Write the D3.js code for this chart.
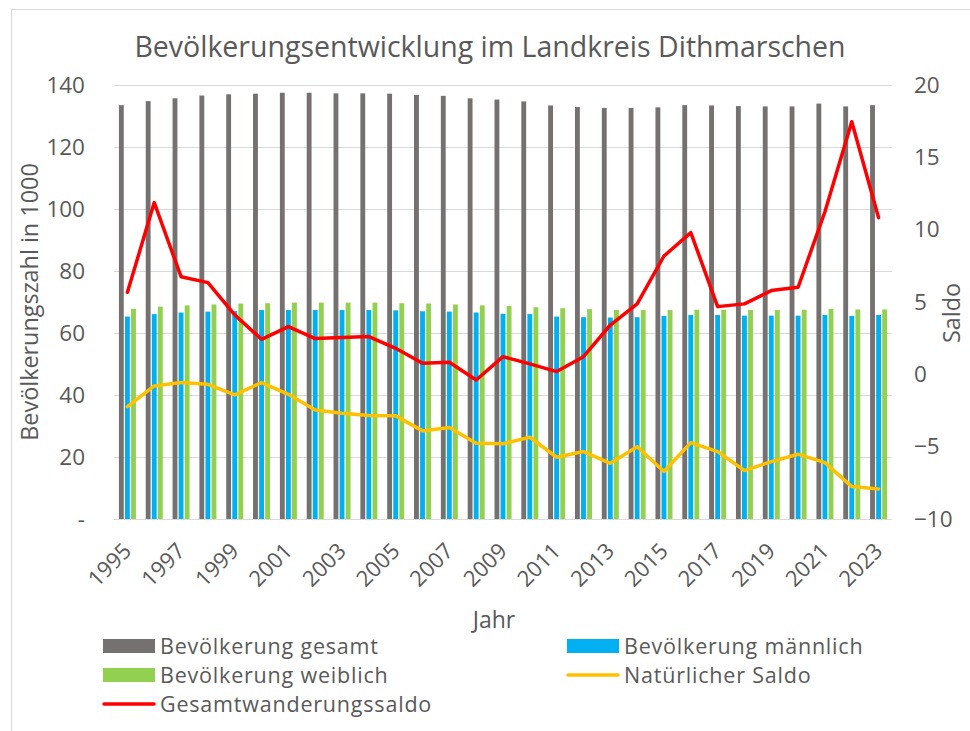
<!DOCTYPE html>
<html lang="de">
<head>
<meta charset="utf-8">
<title>Bevölkerungsentwicklung im Landkreis Dithmarschen</title>
<script src="https://d3js.org/d3.v7.min.js"></script>
<style>
  body { margin: 0; background: #fff; }
  svg { display: block; font-family: "Open Sans", "Noto Sans", sans-serif; }
  text { fill: #595959; }
</style>
</head>
<body>
<svg id="chart" width="970" height="731"></svg>
<script>
// data
const years = d3.range(1995, 2024);
const gesamt = [133.5, 134.8, 135.7, 136.6, 137.0, 137.2, 137.5, 137.5, 137.3, 137.3,
  137.2, 136.8, 136.5, 135.7, 135.3, 134.7, 133.4, 132.9, 132.6, 132.6,
  132.8, 133.5, 133.4, 133.2, 133.1, 133.1, 134.0, 133.1, 133.5];
const maennlich = [65.3, 66.1, 66.6, 66.9, 67.1, 67.4, 67.4, 67.4, 67.4, 67.4,
  67.3, 67.0, 66.9, 66.6, 66.2, 66.1, 65.3, 65.1, 65.0, 65.1,
  65.5, 65.8, 65.8, 65.6, 65.6, 65.6, 65.8, 65.5, 65.8];
const weiblich = [67.8, 68.5, 68.9, 69.2, 69.5, 69.6, 69.8, 69.8, 69.8, 69.8,
  69.6, 69.5, 69.2, 68.9, 68.7, 68.3, 68.0, 67.7, 67.4, 67.4,
  67.4, 67.5, 67.5, 67.4, 67.4, 67.5, 67.8, 67.6, 67.6];
const natSaldo = [-2.23, -0.8, -0.57, -0.69, -1.42, -0.57, -1.38, -2.46, -2.69, -2.85,
  -2.87, -3.91, -3.68, -4.76, -4.8, -4.35, -5.73, -5.34, -6.15, -5.0,
  -6.72, -4.72, -5.34, -6.65, -6.03, -5.52, -6.1, -7.76, -7.92];
const wanderSaldo = [5.67, 11.87, 6.75, 6.34, 4.11, 2.42, 3.3, 2.47, 2.54, 2.61,
  1.8, 0.77, 0.84, -0.39, 1.22, 0.72, 0.19, 1.22, 3.41, 4.87,
  8.18, 9.8, 4.68, 4.87, 5.79, 6.02, 11.24, 17.46, 10.83];
const leftTicks = [0, 20, 40, 60, 80, 100, 120, 140];
const rightTicks = [-10, -5, 0, 5, 10, 15, 20];

const barSeries = [
  { key: "gesamt", label: "Bevölkerung gesamt", values: gesamt, color: "#767171" },
  { key: "maennlich", label: "Bevölkerung männlich", values: maennlich, color: "#00B0F0" },
  { key: "weiblich", label: "Bevölkerung weiblich", values: weiblich, color: "#92D050" }
];
const lineSeries = [
  { key: "nat", label: "Natürlicher Saldo", values: natSaldo, color: "#FFC000" },
  { key: "wander", label: "Gesamtwanderungssaldo", values: wanderSaldo, color: "#FF0000" }
];

const svg = d3.select("#chart");
const plot = { left: 114, right: 892, top: 85, bottom: 519 };

// outer frame of the chart area
svg.append("rect")
  .attr("x", 11.5).attr("y", 9.5)
  .attr("width", 980).attr("height", 740)
  .attr("fill", "none").attr("stroke", "#d9d9d9");

const x = d3.scaleBand().domain(years).range([plot.left, plot.right]);
const groupW = 17;
const x1 = d3.scaleBand().domain(barSeries.map(s => s.key)).range([0, groupW]).paddingInner(0.2);
const yL = d3.scaleLinear().domain([0, 140]).range([plot.bottom, plot.top]);
const yR = d3.scaleLinear().domain([-10, 20]).range([plot.bottom, plot.top]);

// gridlines
svg.append("g")
  .selectAll("line").data(leftTicks).join("line")
  .attr("x1", plot.left).attr("x2", plot.right)
  .attr("y1", d => yL(d) + 0.5).attr("y2", d => yL(d) + 0.5)
  .attr("stroke", "#d9d9d9").attr("stroke-width", 1.2);

function styleAxis(g) {
  g.attr("font-family", null).attr("font-size", null);
  g.select(".domain").remove();
  g.selectAll("text").style("font-size", "22.5px").attr("fill", "#595959");
}

// left axis
svg.append("g")
  .attr("transform", `translate(${plot.left - 29},0)`)
  .call(d3.axisLeft(yL).tickValues(leftTicks).tickSize(0).tickPadding(0)
    .tickFormat(d => d === 0 ? "-" : d))
  .call(styleAxis);

// right axis
svg.append("g")
  .attr("transform", `translate(${plot.right + 22},0)`)
  .call(d3.axisRight(yR).tickValues(rightTicks).tickSize(0).tickPadding(0))
  .call(styleAxis);

// bars
const offset = (x.bandwidth() - groupW) / 2;
barSeries.forEach(s => {
  svg.append("g")
    .selectAll("rect").data(years).join("rect")
    .attr("x", (d, i) => x(d) + offset + x1(s.key))
    .attr("width", x1.bandwidth())
    .attr("y", (d, i) => yL(s.values[i]))
    .attr("height", (d, i) => yL(0) - yL(s.values[i]))
    .attr("fill", s.color);
});

// lines
lineSeries.forEach(s => {
  const line = d3.line()
    .x((d, i) => x(years[i]) + x.bandwidth() / 2)
    .y(d => yR(d));
  svg.append("path")
    .datum(s.values)
    .attr("d", line)
    .attr("fill", "none")
    .attr("stroke", s.color)
    .attr("stroke-width", 3.5)
    .attr("stroke-linejoin", "round")
    .attr("stroke-linecap", "round");
});

// x axis labels, every second year, rotated
const axisX = svg.append("g")
  .attr("transform", `translate(0,${plot.bottom})`)
  .call(d3.axisBottom(x).tickValues(years.filter(y => (y - 1995) % 2 === 0)).tickSize(0).tickPadding(0))
  .call(styleAxis);
axisX.selectAll("text")
  .style("font-size", "22px")
  .attr("text-anchor", "end")
  .attr("dy", null)
  .attr("y", 0)
  .attr("transform", "translate(-1,27) rotate(-45)")
  .attr("dominant-baseline", "central");

// title and axis titles
svg.append("text")
  .attr("x", 490).attr("y", 57)
  .attr("text-anchor", "middle")
  .style("font-size", "28.5px")
  .text("Bevölkerungsentwicklung im Landkreis Dithmarschen");

svg.append("text")
  .attr("transform", "translate(38,302) rotate(-90)")
  .attr("text-anchor", "middle")
  .style("font-size", "23.4px")
  .text("Bevölkerungszahl in 1000");

svg.append("text")
  .attr("transform", "translate(960,313) rotate(-90)")
  .attr("text-anchor", "middle")
  .style("font-size", "23.4px")
  .text("Saldo");

svg.append("text")
  .attr("x", 494).attr("y", 628)
  .attr("text-anchor", "middle")
  .style("font-size", "23px")
  .text("Jahr");

// legend
const legendItems = [
  { ...barSeries[0], type: "bar", col: 0, row: 0 },
  { ...barSeries[1], type: "bar", col: 1, row: 0 },
  { ...barSeries[2], type: "bar", col: 0, row: 1 },
  { ...lineSeries[0], type: "line", col: 1, row: 1 },
  { ...lineSeries[1], type: "line", col: 0, row: 2 }
];
const colX = [103, 567];
const rowY = [646, 675, 704];
const legend = svg.append("g");
legendItems.forEach(it => {
  const g = legend.append("g")
    .attr("transform", `translate(${colX[it.col]},${rowY[it.row]})`);
  if (it.type === "bar") {
    g.append("rect").attr("x", 0).attr("y", -7).attr("width", 52).attr("height", 14)
      .attr("fill", it.color);
  } else {
    g.append("line").attr("x1", 1).attr("x2", 51).attr("y1", 0).attr("y2", 0)
      .attr("stroke", it.color).attr("stroke-width", 3.5).attr("stroke-linecap", "round");
  }
  g.append("text").attr("x", 57).attr("y", 8)
    .style("font-size", "21.5px")
    .style("letter-spacing", "0.8px")
    .text(it.label);
});
</script>
</body>
</html>
